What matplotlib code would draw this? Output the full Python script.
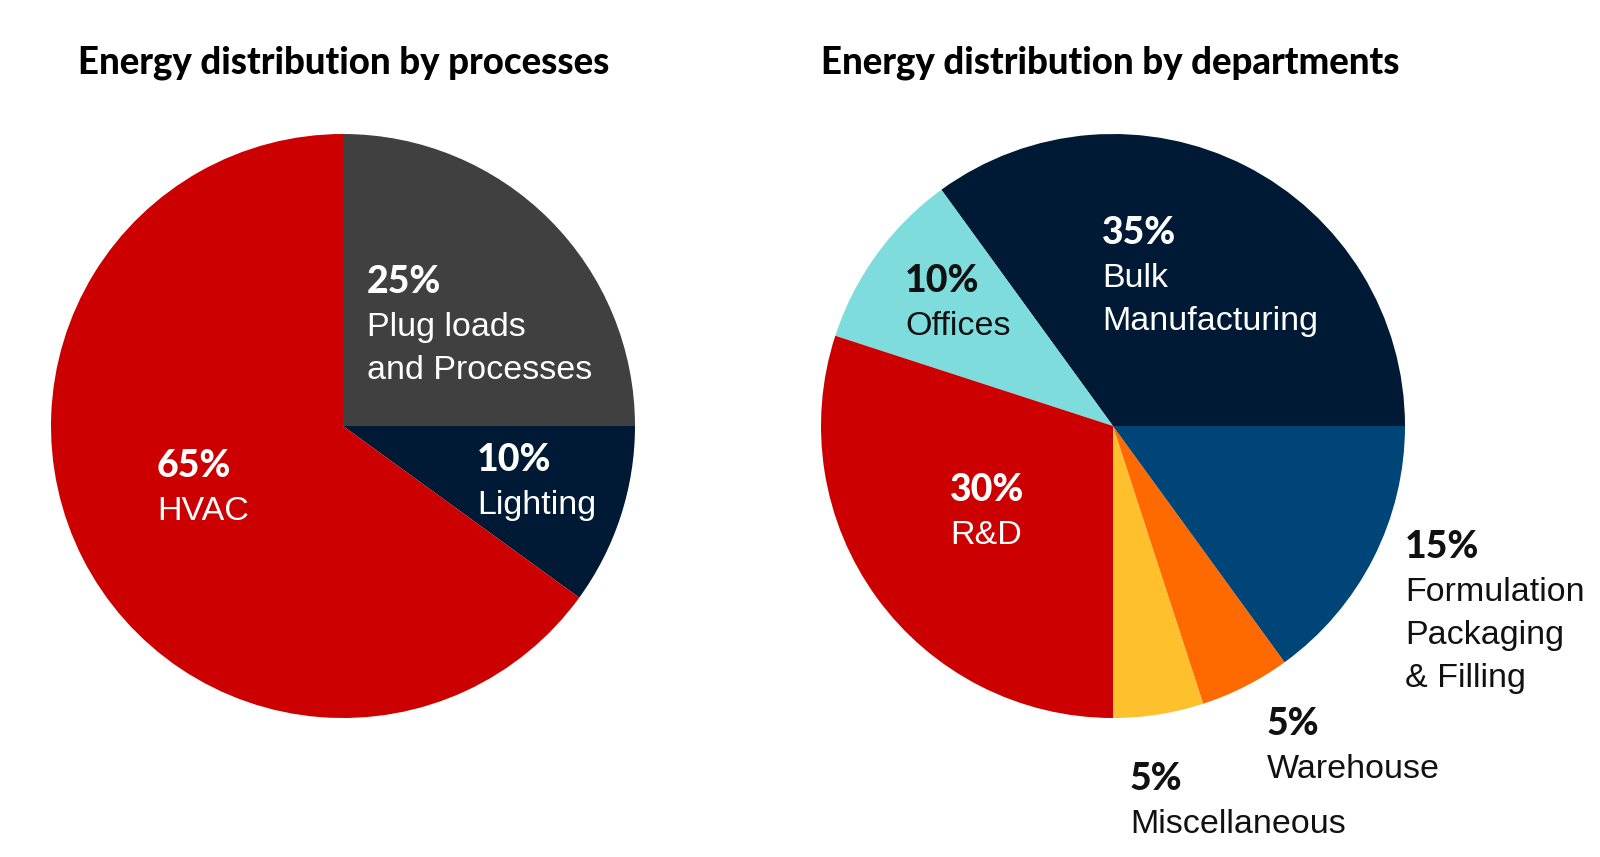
import matplotlib.pyplot as plt

# data
proc_labels = ['Plug loads\nand Processes', 'Lighting', 'HVAC']
proc_values = [25, 10, 65]
proc_colors = ['#404040', '#001A35', '#CC0000']

dept_labels = ['Bulk\nManufacturing', 'Offices', 'R&D', 'Miscellaneous', 'Warehouse',
               'Formulation\nPackaging\n& Filling']
dept_values = [35, 10, 30, 5, 5, 15]
dept_colors = ['#001A35', '#7EDCDC', '#CC0000', '#FFC02E', '#FF6A00', '#004578']

W, H = 1600, 857
plt.rcParams['font.family'] = ['Liberation Sans', 'DejaVu Sans']
HEAVY = ['Lato', 'Liberation Sans', 'DejaVu Sans']

fig = plt.figure(figsize=(16, 8.57), dpi=100)
ax = fig.add_axes([0, 0, 1, 1])
ax.set_xlim(0, W)
ax.set_ylim(0, H)
ax.set_aspect('equal')
ax.axis('off')

R = 292
ax.pie(proc_values, colors=proc_colors, startangle=90, counterclock=False,
       center=(343, H - 426), radius=R, wedgeprops=dict(linewidth=0))
ax.pie(dept_values, colors=dept_colors, startangle=0, counterclock=True,
       center=(1113, H - 426), radius=R, wedgeprops=dict(linewidth=0))
ax.set_xlim(0, W)
ax.set_ylim(0, H)


def label(x, y, value, name, color):
    # y is the pixel baseline of the percentage line (from top)
    ax.text(x, H - y, f'{value}%', fontsize=27, fontweight='black', family=HEAVY,
            color=color, ha='left', va='baseline')
    for i, line in enumerate(name.split('\n')):
        ax.text(x, H - (y + 43 * (i + 1)), line, fontsize=24.5, color=color,
                ha='left', va='baseline')


proc_pos = [(367, 293, 'white'), (477, 471, 'white'), (157, 477, 'white')]
for (x, y, c), v, n in zip(proc_pos, proc_values, proc_labels):
    label(x, y, v, n, c)

dept_pos = [(1102, 244, 'white'), (905, 292, '#111111'), (950, 501, 'white'),
            (1130, 790, '#111111'), (1267, 735, '#111111'), (1405, 558, '#111111')]
for (x, y, c), v, n in zip(dept_pos, dept_values, dept_labels):
    label(x, y, v, n, c)

ax.text(78, H - 73, 'Energy distribution by processes', fontsize=26.3, fontweight='black',
        family=HEAVY, color='black', ha='left', va='baseline')
ax.text(821, H - 73, 'Energy distribution by departments', fontsize=26.3, fontweight='black',
        family=HEAVY, color='black', ha='left', va='baseline')

fig.savefig('out.png', dpi=100, facecolor='white')
